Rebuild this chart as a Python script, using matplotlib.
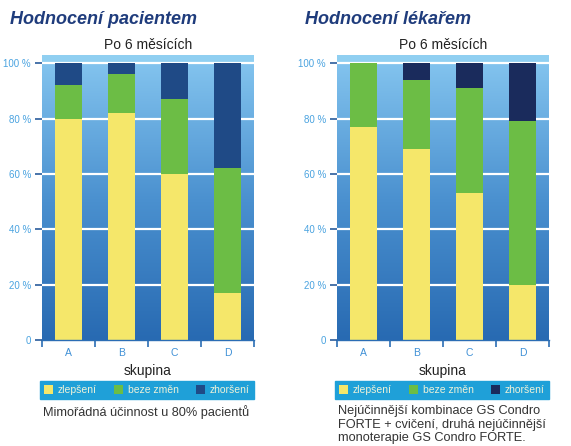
import matplotlib
matplotlib.use("Agg")
import matplotlib.pyplot as plt
import numpy as np
from matplotlib.colors import LinearSegmentedColormap

plt.rcParams['font.family'] = ['Liberation Sans', 'DejaVu Sans']

groups = ['A', 'B', 'C', 'D']
series_names = ['zlepšení', 'beze změn', 'zhoršení']
yticks = [0, 20, 40, 60, 80, 100]
ytick_labels = ['0', '20 %', '40 %', '60 %', '80 %', '100 %']

pat_zlepseni = [80, 82, 60, 17]
pat_beze = [12, 14, 27, 45]
pat_zhorseni = [8, 4, 13, 38]

lek_zlepseni = [77, 69, 53, 20]
lek_beze = [23, 25, 38, 59]
lek_zhorseni = [0, 6, 9, 21]

panels = [
    dict(title='Hodnocení pacientem', data=[pat_zlepseni, pat_beze, pat_zhorseni],
         dark='#1f4a86', caption='Mimořádná účinnost u 80% pacientů', x0=42),
    dict(title='Hodnocení lékařem', data=[lek_zlepseni, lek_beze, lek_zhorseni],
         dark='#1a2b5c',
         caption='Nejúčinnější kombinace GS Condro\nFORTE + cvičení, druhá nejúčinnější\nmonoterapie GS Condro FORTE.',
         x0=337),
]

W, H = 571, 446
fig = plt.figure(figsize=(W / 100, H / 100), dpi=100)
fig.patch.set_facecolor('white')

yellow = '#f5e76a'
green = '#6cbd45'
grad = LinearSegmentedColormap.from_list('g', ['#286ab2', '#4a90cf', '#82c3ee'])

for p in panels:
    x0 = p['x0']
    ax = fig.add_axes([x0 / W, 1 - 340 / H, 212 / W, 285 / H])
    ax.set_xlim(-0.5, 3.5)
    ax.set_ylim(0, 103)
    # background gradient
    g = np.linspace(0, 1, 256).reshape(-1, 1)
    ax.imshow(g, cmap=grad, origin='lower', extent=[-0.5, 3.5, 0, 100],
              aspect='auto', zorder=0)
    ax.axhspan(100, 103, color='#90cff1', zorder=0.5, lw=0)
    for yv in yticks[1:]:
        ax.axhline(yv, color='white', lw=1.6, zorder=1)
    x = np.arange(len(groups))
    colors = [yellow, green, p['dark']]
    bottom = np.zeros(len(groups))
    handles = []
    for vals, c, name in zip(p['data'], colors, series_names):
        b = ax.bar(x, vals, width=0.5, bottom=bottom, color=c, zorder=2,
                   label=name, lw=0)
        handles.append(b)
        bottom += np.array(vals)

    for s in ['top', 'right', 'left']:
        ax.spines[s].set_visible(False)
    ax.spines['bottom'].set_color('#2b6db4')
    ax.spines['bottom'].set_linewidth(1.0)

    ax.set_yticks(yticks)
    ax.set_yticklabels(ytick_labels, fontsize=7, color='#4aa3e0')
    ax.tick_params(axis='y', length=5, width=1.2, color='#2a5c9c', pad=3)

    ax.set_xticks(x)
    ax.set_xticklabels(groups, fontsize=7.5, color='#3f90d6')
    ax.set_xticks(np.arange(-0.5, 4.0, 1.0), minor=True)
    ax.tick_params(axis='x', which='major', length=0, pad=6)
    ax.tick_params(axis='x', which='minor', length=5, width=1.2, color='#2a6db4')

    ax.set_xlabel('skupina', fontsize=10, color='#222222', labelpad=4)

    leg = ax.legend(handles=handles, labels=series_names, ncol=3, mode='expand',
                    loc='center', bbox_to_anchor=(-0.01, -0.214, 1.01, 0.077),
                    frameon=True, fancybox=False, fontsize=7.5,
                    handlelength=0.85, handleheight=0.85, handletextpad=0.5,
                    borderpad=0.4, borderaxespad=0, columnspacing=0.5)
    leg.get_frame().set_facecolor('#1fa0d8')
    leg.get_frame().set_edgecolor('#1fa0d8')
    leg.get_frame().set_alpha(1)
    for t in leg.get_texts():
        t.set_color('#eef2d8')

    fig.text((x0 - 32) / W, 1 - 20 / H, p['title'], fontsize=13,
             fontweight='bold', fontstyle='italic', color='#1f3c7c',
             ha='left', va='center')
    fig.text((x0 + 106) / W, 1 - 45 / H, 'Po 6 měsících', fontsize=10,
             color='#222222', ha='center', va='center')
    fig.text((x0 + 1) / W, 1 - 405 / H, p['caption'], fontsize=9.2,
             color='#333333', ha='left', va='top', linespacing=1.18)

fig.savefig('out.png', dpi=100)
